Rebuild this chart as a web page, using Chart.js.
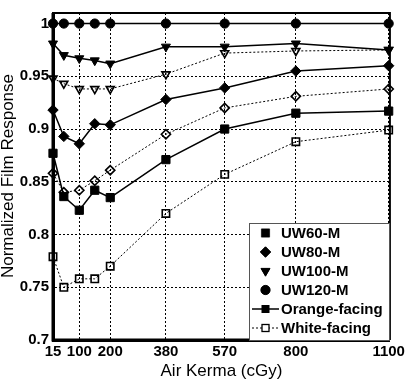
<!DOCTYPE html>
<html>
<head>
<meta charset="utf-8">
<script src="https://cdn.jsdelivr.net/npm/chart.js@4"></script>
<style>
html,body{margin:0;padding:0;background:#fff;}
#wrap{width:408px;height:380px;position:relative;}
</style>
</head>
<body>
<div id="wrap"><canvas id="c" width="408" height="380"></canvas></div>
<script>
const airKerma = [15, 50, 100, 150, 200, 380, 570, 800, 1100];
const xTickValues = [15, 100, 200, 380, 570, 800, 1100];
const yTickValues = [0.7, 0.75, 0.8, 0.85, 0.9, 0.95, 1.0];

const uw60Orange  = [0.877, 0.836, 0.823, 0.842, 0.835, 0.871, 0.900, 0.915, 0.917];
const uw60White   = [0.779, 0.750, 0.758, 0.758, 0.770, 0.820, 0.857, 0.888, 0.899];
const uw80Orange  = [0.918, 0.893, 0.886, 0.905, 0.904, 0.928, 0.939, 0.955, 0.960];
const uw80White   = [0.858, 0.840, 0.842, 0.851, 0.861, 0.895, 0.920, 0.931, 0.938];
const uw100Orange = [0.981, 0.970, 0.967, 0.965, 0.962, 0.978, 0.978, 0.981, 0.975];
const uw100White  = [0.948, 0.943, 0.938, 0.938, 0.938, 0.952, 0.972, 0.974, 0.975];
const uw120Orange = [1.0, 1.0, 1.0, 1.0, 1.0, 1.0, 1.0, 1.0, 1.0];

const legendLabels = ['UW60-M', 'UW80-M', 'UW100-M', 'UW120-M', 'Orange-facing', 'White-facing'];
const xTitle = 'Air Kerma (cGy)';
const yTitle = 'Normalized Film Response';

function pts(arr){ return airKerma.map((x,i)=>({x:x, y:arr[i]})); }

const markerDefs = {
  sq:  {pointStyle:'rect', pointRadius:5.8, rotation:0},
  di:  {pointStyle:'rectRot', pointRadius:5.2, rotation:0},
  tri: {pointStyle:'triangle', pointRadius:5.2, rotation:180},
  ci:  {pointStyle:'circle', pointRadius:4.6, rotation:0}
};

function orange(label, data, m){
  const d = markerDefs[m];
  return {label, data: pts(data), borderColor:'#000', borderWidth:1.5,
    pointStyle:d.pointStyle, pointRadius:d.pointRadius, pointRotation:d.rotation,
    pointBackgroundColor:'#000', pointBorderColor:'#000', pointBorderWidth:1,
    clip:false, tension:0};
}
function white(label, data, m){
  const d = markerDefs[m];
  return {label, data: pts(data), borderColor:'#000', borderWidth:1, borderDash:[2,2],
    pointStyle:d.pointStyle, pointRadius:d.pointRadius-0.6, pointRotation:d.rotation,
    pointBackgroundColor:'rgba(255,255,255,0)', pointBorderColor:'#000', pointBorderWidth:1.6,
    clip:false, tension:0};
}

const datasets = [
  white('UW60 white', uw60White, 'sq'),
  orange('UW60 orange', uw60Orange, 'sq'),
  white('UW80 white', uw80White, 'di'),
  orange('UW80 orange', uw80Orange, 'di'),
  white('UW100 white', uw100White, 'tri'),
  orange('UW100 orange', uw100Orange, 'tri'),
  orange('UW120 orange', uw120Orange, 'ci')
];

const FONT = "'Liberation Sans', Arial, sans-serif";

const framePlugin = {
  id:'frame',
  afterDatasetsDraw(chart){
    const {ctx, chartArea:a} = chart;
    ctx.save();
    ctx.strokeStyle = '#000';
    ctx.lineWidth = 2;
    ctx.beginPath();
    ctx.moveTo(a.left, a.top); ctx.lineTo(a.right, a.top); ctx.lineTo(a.right, a.bottom);
    ctx.stroke();
    ctx.lineWidth = 3;
    ctx.beginPath();
    ctx.moveTo(a.left, a.top); ctx.lineTo(a.left, a.bottom); ctx.lineTo(a.right, a.bottom);
    ctx.stroke();
    ctx.restore();
  },
  afterDraw(chart){
    const {ctx, chartArea:a} = chart;
    ctx.save();
    ctx.fillStyle = '#000';
    ctx.font = '17px ' + FONT;
    ctx.textAlign = 'center';
    ctx.textBaseline = 'middle';
    ctx.fillText(xTitle, (a.left + a.right)/2, 371);
    ctx.translate(8, 176);
    ctx.rotate(-Math.PI/2);
    ctx.fillText(yTitle, 0, 0);
    ctx.restore();

    // legend
    ctx.save();
    const bx = 249, by = 223, bw = 140, bh = 117;
    ctx.fillStyle = '#fff';
    ctx.fillRect(bx, by, bw, bh);
    ctx.strokeStyle = '#555';
    ctx.lineWidth = 1;
    ctx.strokeRect(bx + 0.5, by + 0.5, bw, bh);
    const rows = [233, 252, 271, 290, 309, 328];
    const mx = 265.5;
    ctx.font = 'bold 15px ' + FONT;
    ctx.textAlign = 'left';
    ctx.textBaseline = 'middle';
    const styles = [markerDefs.sq, markerDefs.di, markerDefs.tri, markerDefs.ci];
    for (let i = 0; i < 4; i++) {
      const s = styles[i];
      Chart.helpers.drawPoint(ctx, {pointStyle:s.pointStyle, rotation:s.rotation, radius:s.pointRadius, borderWidth:1},
        mx, rows[i]);
      ctx.fillStyle = '#000'; ctx.strokeStyle = '#000';
      ctx.fill();
    }
    ctx.strokeStyle = '#000';
    ctx.lineWidth = 1.5;
    ctx.beginPath(); ctx.moveTo(252, rows[4]); ctx.lineTo(279, rows[4]); ctx.stroke();
    ctx.fillStyle = '#000';
    ctx.fillRect(mx - 4, rows[4] - 4, 8, 8);
    ctx.lineWidth = 1;
    ctx.setLineDash([2,2]);
    ctx.beginPath(); ctx.moveTo(252, rows[5]); ctx.lineTo(279, rows[5]); ctx.stroke();
    ctx.setLineDash([]);
    ctx.fillStyle = '#fff';
    ctx.fillRect(mx - 3.5, rows[5] - 3.5, 7, 7);
    ctx.lineWidth = 1.3;
    ctx.strokeRect(mx - 3.5, rows[5] - 3.5, 7, 7);
    ctx.fillStyle = '#000';
    for (let i = 0; i < 6; i++) ctx.fillText(legendLabels[i], 281, rows[i] + 0.5);
    ctx.restore();
  }
};

new Chart(document.getElementById('c'), {
  type:'line',
  data:{datasets},
  options:{
    responsive:false,
    animation:false,
    devicePixelRatio:1,
    layout:{padding:{top:2, right:17, left:0, bottom:0}},
    plugins:{legend:{display:false}, tooltip:{enabled:false}},
    scales:{
      x:{
        type:'linear', min:15, max:1104,
        afterBuildTicks(s){ s.ticks = xTickValues.map(v=>({value:v})); },
        afterFit(s){ s.height = 40; },
        ticks:{color:'#000', font:{family:FONT, size:15, weight:'bold'}, padding:3, maxRotation:0,
          callback:(v)=>String(v)},
        grid:{color:'#000', lineWidth:1, tickLength:0, drawTicks:false},
        border:{display:true, color:'#000', width:3, dash:[2,2]},
      },
      y:{
        type:'linear', min:0.7, max:1.01,
        afterBuildTicks(s){ s.ticks = yTickValues.map(v=>({value:v})); },
        afterFit(s){ s.width = 53; },
        ticks:{color:'#000', font:{family:FONT, size:15, weight:'bold'}, padding:4,
          callback:(v)=> (Math.abs(v-1)<1e-9 ? '1' : String(Math.round(v*100)/100))},
        grid:{color:'#000', lineWidth:1, tickLength:0, drawTicks:false},
        border:{display:true, color:'#000', width:3, dash:[2,2]},
      }
    }
  },
  plugins:[framePlugin]
});
</script>
</body>
</html>
